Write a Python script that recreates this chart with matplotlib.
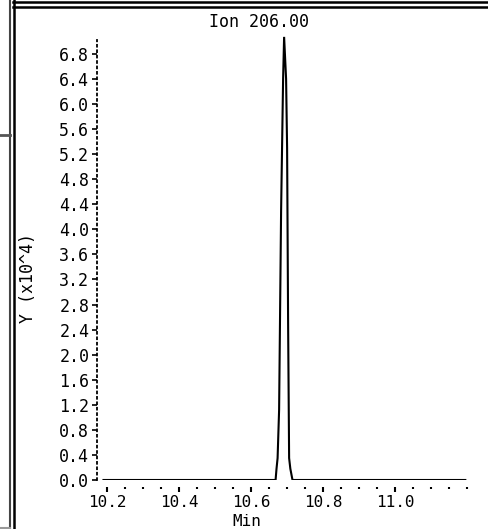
#!/usr/bin/env python3
# -*- coding: utf-8 -*-
"""
Ion chromatogram, single peak for ion 206.00
"""

import matplotlib
matplotlib.use('Agg')
import matplotlib.pyplot as plt
from matplotlib.ticker import MultipleLocator, FormatStrFormatter
from matplotlib.lines import Line2D

#   retention time (min) and abundance (x10^4)
rtMin = [10.19, 10.668, 10.6706, 10.6736, 10.6778, 10.6833, 10.6889, 10.6917,
         10.6972, 10.700, 10.7028, 10.7056, 10.709, 10.715, 11.195]
abund = [0.0, 0.0, 0.18, 0.35, 1.12, 4.28, 6.40, 7.07,
         6.40, 5.30, 2.50, 0.35, 0.18, 0.0, 0.0]
xTicks = [10.2, 10.4, 10.6, 10.8, 11.0]

sTitle = 'Ion 206.00'
sXlabel = 'Min'
sYlabel = 'Y (x10^4)'

#   figure in pixel units
W, H = 489, 529
sFont = 'DejaVu Sans Mono'
fSize = 12
plt.rcParams['font.family'] = sFont

fig = plt.figure(figsize=(W/100, H/100), dpi=100)
fig.patch.set_facecolor('white')

#   axes placed by pixel: left 97, right 470, top 35, bottom 480
xL, xR, yT, yB = 97, 470, 35, 480
ax = fig.add_axes([xL/W, (H-yB)/H, (xR-xL)/W, (yB-yT)/H])
ax.plot(rtMin, abund, color='black', lw=1.5, solid_joinstyle='miter')

#   spines: dotted y axis, no box, x ticks hang below the baseline
for s in ['top', 'right']:
    ax.spines[s].set_visible(False)
ax.spines['bottom'].set_visible(False)
ax.spines['bottom'].set_position(('outward', 5))
ax.spines['left'].set_linestyle((0, (1, 2)))
ax.spines['left'].set_linewidth(1.3)
ax.spines['left'].set_bounds(0.0, 7.02)

ax.set_xticks(xTicks)
ax.xaxis.set_minor_locator(MultipleLocator(0.05))
ax.xaxis.set_major_formatter(FormatStrFormatter('%.1f'))
ax.yaxis.set_major_locator(MultipleLocator(0.4))
ax.yaxis.set_major_formatter(FormatStrFormatter('%.1f'))
ax.set_xlim(10.172, 11.208)
ax.set_ylim(0.0, 7.1)
ax.tick_params(axis='x', which='major', direction='out', length=3.5, width=1.5,
               pad=2, labelsize=11.5)
ax.tick_params(axis='x', which='minor', direction='out', length=1.5, width=1.5)
ax.tick_params(axis='y', which='major', direction='out', length=3.5, width=1.2,
               pad=2, labelsize=fSize)

#   titles and axis labels
fig.text(259/W, 1-22/H, sTitle, ha='center', va='center', fontsize=fSize)
fig.text(247/W, 1-521/H, sXlabel, ha='center', va='center', fontsize=11.5)
fig.text(28/W, 1-278/H, sYlabel, ha='center', va='center', rotation=90,
         fontsize=fSize)

#   window borders
def hline(x0, x1, y, c='black', lw=1.5):
    fig.add_artist(Line2D([x0/W, x1/W], [1-y/H, 1-y/H], color=c, lw=lw))

def vline(x, y0, y1, c='black', lw=1.5):
    fig.add_artist(Line2D([x/W, x/W], [1-y0/H, 1-y1/H], color=c, lw=lw))

vline(10, 0, H, c='#444444', lw=1.5)
vline(14, 0, H, lw=1.8)
hline(13, W, 1.5, lw=1.8)
hline(13, W, 6.5, lw=1.8)
hline(0, 10, 134.5, c='#555555', lw=2)
hline(0, 10, 527.5, c='#999999', lw=1.5)

plt.savefig('out.png', dpi=100)
